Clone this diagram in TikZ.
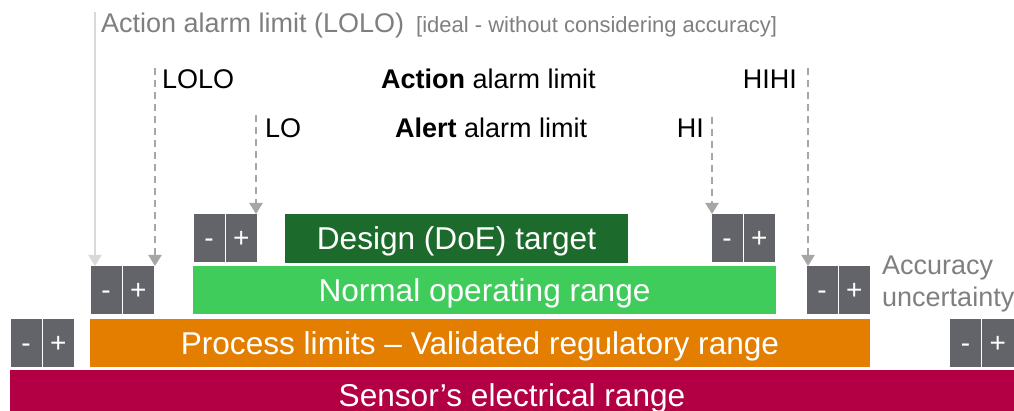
\documentclass[tikz,border=0pt]{standalone}
\usepackage{fontspec}
\setmainfont{Liberation Sans}
\usetikzlibrary{arrows.meta,calc}
\definecolor{boxgray}{HTML}{636469}
\definecolor{procorange}{HTML}{E37E00}
\definecolor{sensorred}{HTML}{B30044}
\definecolor{normalgreen}{HTML}{3FCC5A}
\definecolor{designgreen}{HTML}{1D6B2C}
\definecolor{txtgray}{HTML}{7F7F7F}
\definecolor{idealline}{HTML}{D9D9D9}
\definecolor{dashgray}{HTML}{A6A6A6}
\newcommand\pmpair[3]{%
  \node[cell] (#1m) at (#2,#3) {-};
  \node[cell] (#1p) at (#1m.north east) {+};}
\begin{document}
\begin{tikzpicture}[x=1pt,y=-1pt,
  bar/.style={rectangle, inner sep=0pt, outer sep=0pt, anchor=north west, text=white,
    font=\fontsize{31.6}{36}\selectfont, text height=22.6pt, text depth=0pt},
  cell/.style={rectangle, fill=boxgray, draw=white, line width=1pt, outer sep=0pt,
    minimum width=32.25pt, minimum height=48.5pt, inner sep=0pt, anchor=north west,
    text=white, font=\fontsize{28}{32}\selectfont, text height=19pt, text depth=0pt},
  lab/.style={inner sep=0pt, font=\fontsize{27}{32}\selectfont},
  note/.style={inner sep=0pt, font=\fontsize{22}{26}\selectfont},
  idealarrow/.style={draw=idealline, line width=2.2pt, -{Triangle[width=13pt,length=11pt,fill=idealline]}},
  limitarrow/.style={draw=dashgray, line width=2.2pt, dash pattern=on 7pt off 5pt,
    -{Triangle[width=13pt,length=11pt,fill=dashgray]}}
]
\useasboundingbox (0,0) rectangle (1014,411);
% bars
\node[bar, fill=sensorred, minimum width=1004pt, minimum height=50pt] (sensor) at (10,370) {Sensor’s electrical range};
\node[bar, fill=procorange, minimum width=780pt, minimum height=48pt] (process) at (90,319) {Process limits – Validated regulatory range};
\node[bar, fill=normalgreen, minimum width=583pt, minimum height=48pt] (normal) at (193,266) {Normal operating range};
\node[bar, fill=designgreen, minimum width=343pt, minimum height=49pt] (design) at (285,214) {Design (DoE) target};
% accuracy boxes
\pmpair{pa}{10}{319}
\pmpair{pb}{90}{266}
\pmpair{pc}{193}{214}
\pmpair{pd}{711}{214}
\pmpair{pe}{806}{266}
\pmpair{pf}{949.5}{319}
% labels
\node[lab, anchor=base west, text=txtgray] (ideal) at (101,33) {Action alarm limit (LOLO)};
\node[note, anchor=base west, text=txtgray] (idealnote) at (416,33) {[ideal - without considering accuracy]};
\node[lab, anchor=base west] (lolo) at (162,89) {LOLO};
\node[lab, anchor=base west] (action) at (381,89) {\textbf{Action} alarm limit};
\node[lab, anchor=base west] (lo) at (265,138) {LO};
\node[lab, anchor=base west] (alert) at (395,138) {\textbf{Alert} alarm limit};
\node[lab, anchor=base east] (hi) at (704,138) {HI};
\node[lab, anchor=base east] (hihi) at (797,89) {HIHI};
\node[lab, anchor=base west, text=txtgray] (accuracy) at (882,275) {Accuracy};
\node[lab, anchor=base west, text=txtgray] (uncertainty) at (882,307) {uncertainty};
% arrows
\coordinate (idealtop) at (95,12);
\coordinate (lolotop) at (155,68);
\coordinate (lotop) at (256,115);
\coordinate (hitop) at (712,117);
\coordinate (hihitop) at (808,68);
\draw[idealarrow] (idealtop) -- (idealtop |- pbm.north);
\draw[limitarrow] (lolotop) -- (lolotop |- pbp.north);
\draw[limitarrow] (lotop) -- (lotop |- pcp.north);
\draw[limitarrow] (hitop) -- (hitop |- pdm.north);
\draw[limitarrow] (hihitop) -- (hihitop |- pem.north);
\end{tikzpicture}
\end{document}
